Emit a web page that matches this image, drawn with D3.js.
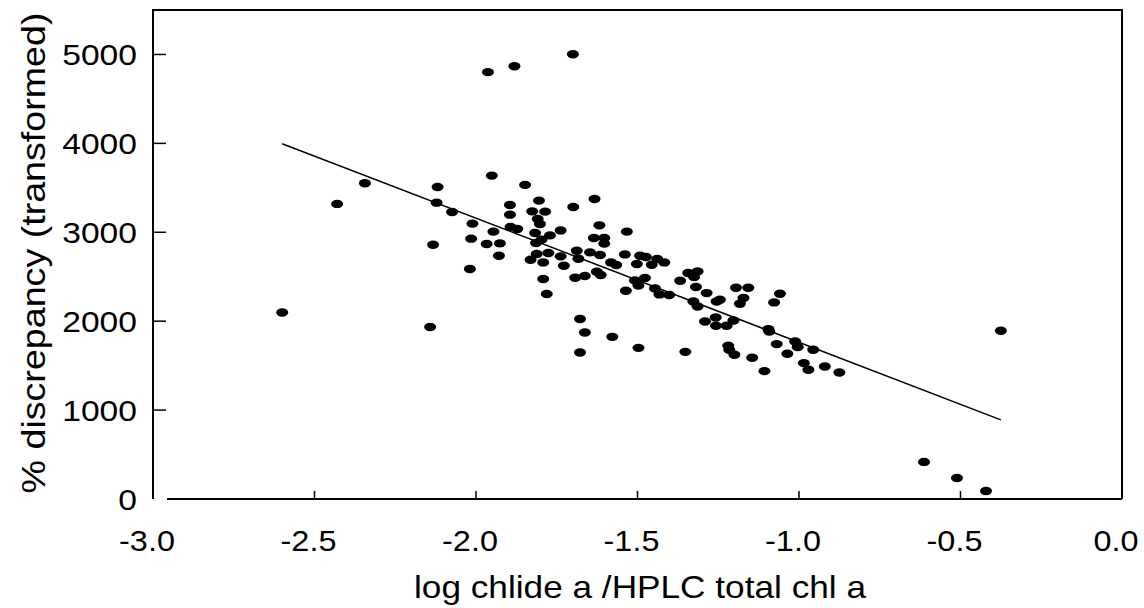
<!DOCTYPE html>
<html>
<head>
<meta charset="utf-8">
<script src="https://cdn.jsdelivr.net/npm/d3@7"></script>
<style>
  body { margin: 0; background: #fff; }
  text { font-family: "Liberation Sans", Arial, sans-serif; fill: #000; }
</style>
</head>
<body>
<div id="chart"></div>
<script>
// log chlide a / HPLC total chl a  vs  % discrepancy (transformed)
const xValues = [-2.60, -2.43, -2.344, -2.119, -2.122, -2.074, -2.133, -2.142, -1.963, -1.881,
  -1.700, -1.951, -1.848, -1.805, -1.633, -2.011, -2.015, -1.946, -1.967, -1.926,
  -1.929, -2.019, -1.895, -1.895, -1.893, -1.872, -1.826, -1.786, -1.809, -1.802,
  -1.817, -1.771, -1.738, -1.814, -1.797, -1.812, -1.831, -1.776, -1.792, -1.738,
  -1.728, -1.792, -1.781, -1.699, -1.688, -1.683, -1.693, -1.678, -1.678, -1.618,
  -1.533, -1.635, -1.603, -1.603, -1.647, -1.616, -1.539, -1.492, -1.474, -1.582,
  -1.566, -1.502, -1.456, -1.439, -1.417, -1.663, -1.626, -1.614, -1.508, -1.497,
  -1.477, -1.536, -1.446, -1.432, -1.402, -1.368, -1.343, -1.314, -1.325, -1.319,
  -1.286, -1.327, -1.314, -1.255, -1.258, -1.291, -1.257, -1.663, -1.578, -1.497,
  -1.352, -1.195, -1.157, -1.245, -1.172, -1.183, -1.059, -1.077, -1.224, -1.203,
  -1.095, -1.092, -1.069, -1.012, -1.004, -0.956, -1.036, -1.219, -1.216, -1.200,
  -1.145, -1.107, -0.985, -0.971, -0.920, -0.875, -0.375, -0.613, -0.511, -0.421]
const yValues = [2098, 3319, 3551, 3510, 3333, 3228, 2860, 1934, 4801, 4868,
  5003, 3637, 3533, 3356, 3375, 3097, 2928, 3007, 2868, 2875,
  2736, 2587, 3307, 3198, 3060, 3037, 3235, 3232, 3150, 3093,
  2992, 2965, 3021, 2879, 2917, 2756, 2691, 2767, 2661, 2729,
  2624, 2474, 2305, 3285, 2793, 2703, 2489, 2024, 1647, 3078,
  3007, 2936, 2936, 2872, 2774, 2744, 2751, 2736, 2722, 2661,
  2632, 2643, 2635, 2699, 2661, 2508, 2556, 2519, 2458, 2402,
  2485, 2342, 2368, 2301, 2294, 2455, 2542, 2560, 2497, 2384,
  2316, 2222, 2165, 2222, 2042, 1997, 1948, 1873, 1824, 1700,
  1655, 2376, 2376, 2241, 2260, 2196, 2309, 2211, 1948, 2008,
  1911, 1884, 1742, 1771, 1708, 1678, 1633, 1723, 1678, 1622,
  1588, 1438, 1528, 1453, 1490, 1422, 1892, 417, 236, 90]

// fitted regression line
const fitIntercept = 366
const fitSlope = -1396
const fitRange = [-2.6, -0.375]

const xTicks = [-3.0, -2.5, -2.0, -1.5, -1.0, -0.5, 0.0]
const yTicks = [0, 1000, 2000, 3000, 4000, 5000]

var chart_width     =   1144;
var chart_height    =   608;
var plot_left = 153, plot_right = 1122, plot_top = 10, plot_bottom = 499;

var svg             =   d3.select( '#chart' )
    .append( 'svg' )
    .attr( 'width', chart_width )
    .attr( 'height', chart_height );

const x_scale = d3.scaleLinear()
    .domain([ -3, 0 ])
    .range([ plot_left, plot_right ])

const y_scale = d3.scaleLinear()
    .domain([ 0, 5500 ])
    .range([ plot_bottom, plot_top ])

// stretch text a bit wider, like the scanned original
function widen( sel, k ){
    sel.each(function(){
        const w = this.getComputedTextLength()
        d3.select(this).attr('textLength', w * k).attr('lengthAdjust', 'spacingAndGlyphs')
    })
}

// frame
svg.append('path')
    .attr('d', `M${plot_left},${plot_bottom} V${plot_top} H${plot_right} V${plot_bottom}`)
    .attr('fill', 'none')
    .attr('stroke', '#000')
    .attr('stroke-width', 2)
svg.append('line')
    .attr('x1', plot_left + 14).attr('x2', plot_right)
    .attr('y1', plot_bottom).attr('y2', plot_bottom)
    .attr('stroke', '#000')
    .attr('stroke-width', 2)

// y ticks (inward)
svg.selectAll('.ytick')
    .data(yTicks.filter(d => d > 0))
    .enter()
    .append('line')
    .attr('x1', plot_left).attr('x2', plot_left + 13)
    .attr('y1', d => y_scale(d)).attr('y2', d => y_scale(d))
    .attr('stroke', '#000')
    .attr('stroke-width', 1.5)

svg.selectAll('.ylabel')
    .data(yTicks)
    .enter()
    .append('text')
    .text(d => d)
    .attr('x', 137)
    .attr('y', d => y_scale(d) + 11)
    .attr('font-size', 30)
    .attr('text-anchor', 'end')
    .call(widen, 1.12)

// x ticks (inward)
svg.selectAll('.xtick')
    .data(xTicks.filter(d => d > -3 && d < 0))
    .enter()
    .append('line')
    .attr('x1', d => x_scale(d)).attr('x2', d => x_scale(d))
    .attr('y1', plot_bottom).attr('y2', plot_bottom - 8)
    .attr('stroke', '#000')
    .attr('stroke-width', 1.5)

svg.selectAll('.xlabel')
    .data(xTicks)
    .enter()
    .append('text')
    .text(d => d.toFixed(1))
    .attr('x', d => x_scale(d) - 6)
    .attr('y', 551)
    .attr('font-size', 30)
    .attr('text-anchor', 'middle')
    .call(widen, 1.08)

// axis titles
svg.append('text')
    .text('log chlide a /HPLC total chl a')
    .attr('x', 640)
    .attr('y', 598)
    .attr('font-size', 32)
    .attr('text-anchor', 'middle')
    .call(widen, 1.1)

svg.append('text')
    .text('% discrepancy (transformed)')
    .attr('transform', 'translate(45,253) rotate(-90)')
    .attr('font-size', 33)
    .attr('text-anchor', 'middle')
    .call(widen, 1.14)

// regression line
svg.append('line')
    .attr('x1', x_scale(fitRange[0]))
    .attr('y1', y_scale(fitIntercept + fitSlope * fitRange[0]))
    .attr('x2', x_scale(fitRange[1]))
    .attr('y2', y_scale(fitIntercept + fitSlope * fitRange[1]))
    .attr('stroke', '#000')
    .attr('stroke-width', 1.5)

// points
svg.selectAll('ellipse')
    .data(xValues)
    .enter()
    .append('ellipse')
    .attr('cx', d => x_scale(d))
    .attr('cy', (d, i) => y_scale(yValues[i]))
    .attr('rx', 6)
    .attr('ry', 4.2)
    .attr('fill', '#000')
</script>
</body>
</html>
